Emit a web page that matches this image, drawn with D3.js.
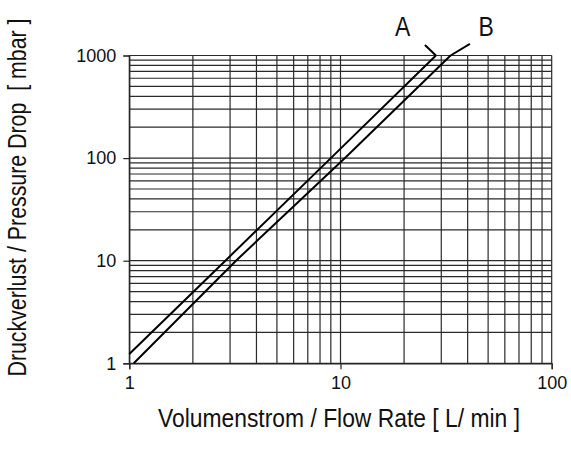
<!DOCTYPE html>
<html><head><meta charset="utf-8">
<script src="https://cdn.jsdelivr.net/npm/d3@7"></script>
<style>
body{margin:0;background:#fff;}
svg{display:block;}
text{fill:#111;}
</style></head>
<body>
<svg id="c" width="571" height="450"></svg>
<script>
// Data (flow in L/min, pressure drop in mbar)
const curveA = [[1,1.23],[2.85,10],[9.0,100],[28.3,1000]];
const curveB = [[1.05,1],[3.2,10],[10.5,100],[33.2,1000]];
const leaderA = [[28.3,1000],[25.1,1268]];
const leaderB = [[33.2,1000],[41.0,1297]];
const labels = [{t:"A",x:19.7,y:1563},{t:"B",x:48.9,y:1563}];
const xTicks = [1,10,100];
const yTicks = [1,10,100,1000];
const xTitle = "Volumenstrom / Flow Rate [ L/ min ]";
const yTitle = "Druckverlust / Pressure Drop  [ mbar ]";

const svg = d3.select("#c");
const L=129.3, R=551.7, T=55.5, B=363.3;
const x = d3.scaleLog().domain([1,100]).range([L,R]);
const y = d3.scaleLog().domain([1,1000]).range([B,T]);

const xGrid=[], yGrid=[];
for (const d of [1,10]) for (let k=1;k<10;k++) xGrid.push(d*k);
xGrid.push(100);
for (const d of [1,10,100]) for (let k=1;k<10;k++) yGrid.push(d*k);
yGrid.push(1000);

const g = svg.append("g");
g.selectAll("line.v").data(xGrid).join("line")
  .attr("x1",d=>x(d)).attr("x2",d=>x(d)).attr("y1",T).attr("y2",B)
  .attr("stroke","#2a2a2a").attr("stroke-width",1.2);
g.selectAll("line.h").data(yGrid).join("line")
  .attr("y1",d=>y(d)).attr("y2",d=>y(d)).attr("x1",L).attr("x2",R)
  .attr("stroke","#2a2a2a").attr("stroke-width",1.2);

// axes
const xAxis = d3.axisBottom(x).tickValues(xTicks).tickFormat(d3.format("d")).tickSize(6).tickPadding(7);
const yAxis = d3.axisLeft(y).tickValues(yTicks).tickFormat(d3.format("d")).tickSize(6).tickPadding(7);
const gx = svg.append("g").attr("transform",`translate(0,${B})`).call(xAxis);
const gy = svg.append("g").attr("transform",`translate(${L},0)`).call(yAxis);
[gx,gy].forEach(a=>{
  a.select(".domain").attr("stroke","#222").attr("stroke-width",1.2);
  a.selectAll(".tick line").attr("stroke","#222").attr("stroke-width",1.2);
  a.selectAll(".tick text").attr("font-family","'Liberation Sans', Arial, sans-serif").attr("font-size",18).attr("fill","#1a1a1a");
});

const line = d3.line().x(d=>x(d[0])).y(d=>y(d[1]));
[curveA,curveB,leaderA,leaderB].forEach(c=>{
  svg.append("path").attr("d",line(c)).attr("fill","none").attr("stroke","#000").attr("stroke-width",2);
});

const nf = "'Liberation Sans Narrow','Arial Narrow','Liberation Sans',sans-serif";
svg.selectAll("text.lab").data(labels).join("text")
  .attr("transform",d=>`translate(${x(d.x)},${y(d.y)}) scale(0.82,1)`)
  .attr("text-anchor","middle").attr("fill","#1a1a1a")
  .attr("font-family",nf).attr("font-size",28).text(d=>d.t);

svg.append("text").attr("x",339).attr("y",427).attr("text-anchor","middle")
  .attr("font-family",nf).attr("font-size",25).attr("fill","#1a1a1a")
  .attr("textLength",362).attr("lengthAdjust","spacingAndGlyphs").text(xTitle);
svg.append("text").attr("transform","translate(25.5,197.5) rotate(-90)").attr("text-anchor","middle")
  .attr("font-family",nf).attr("font-size",25).attr("fill","#1a1a1a").style("white-space","pre")
  .attr("textLength",358).attr("lengthAdjust","spacingAndGlyphs").text(yTitle);
</script>
</body></html>
